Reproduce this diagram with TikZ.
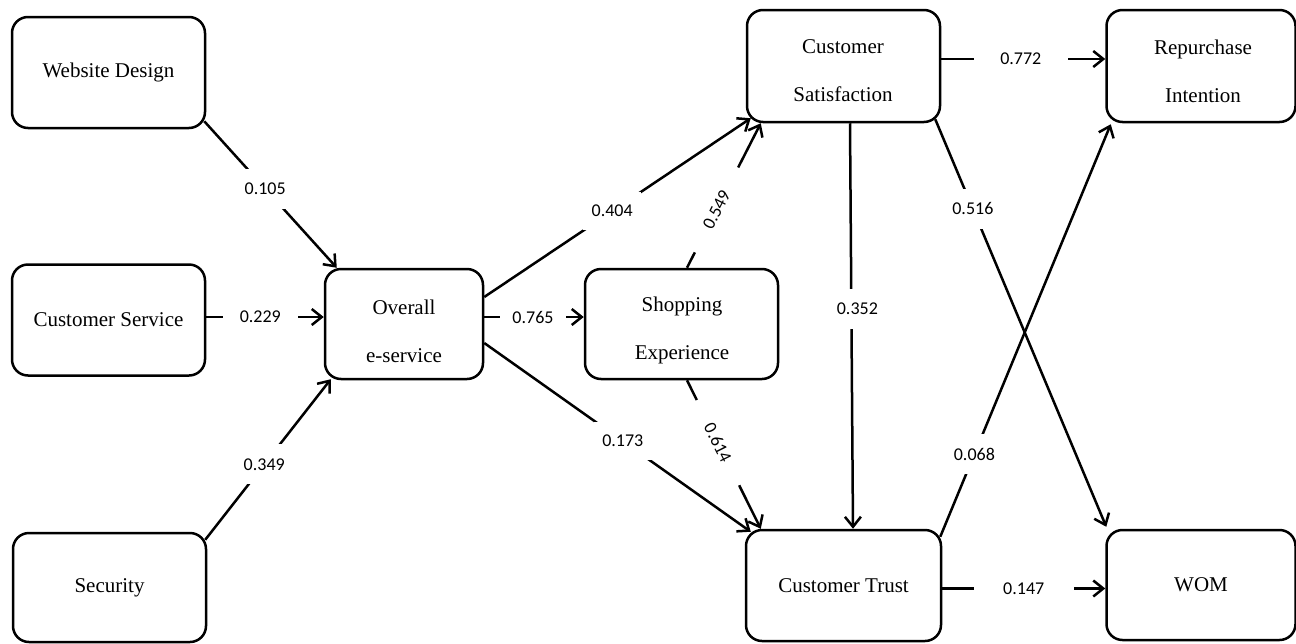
\documentclass[tikz,border=0pt]{standalone}
\usepackage{fontspec}
\setmainfont{Liberation Serif}
\newfontfamily\lblfont{Carlito}
\usetikzlibrary{arrows.meta}
\begin{document}
\begin{tikzpicture}[x=1pt,y=-1pt,
  box/.style={draw, line width=2.5pt, rounded corners=16pt, inner sep=0pt, fill=white,
    font=\fontsize{21pt}{25pt}\selectfont},
  boxtext/.style={align=center, inner sep=0pt, font=\fontsize{21pt}{48pt}\selectfont},
  conn/.style={line width=2.5pt, -{Straight Barb[length=10pt,width=16pt]}},
  lblbase/.style={fill=white, inner sep=1pt, font=\lblfont\fontsize{18pt}{20pt}\selectfont},
  lblh/.style={lblbase, minimum height=16pt},
  lbld/.style={lblbase, minimum width=46pt, minimum height=40pt},
  lbls/.style={lblbase, sloped, minimum width=95pt, minimum height=20pt}
]
\useasboundingbox (0,0) rectangle (1296,643);
\fill[white] (0,0) rectangle (1296,643);

% boxes
\node[box, minimum width=193pt, minimum height=111pt] (wd) at (108.5,72.5) {Website Design};
\node[box, minimum width=193pt, minimum height=111pt] (cs) at (108.5,320) {Customer Service};
\node[box, minimum width=193pt, minimum height=109pt] (sec) at (109.5,587.5) {Security};
\node[box, minimum width=158pt, minimum height=110pt] (oe) at (404,324) {};
\node[box, minimum width=193pt, minimum height=110pt] (se) at (681.5,324) {};
\node[box, minimum width=193pt, minimum height=112pt] (csat) at (843.5,66) {};
\node[box, minimum width=195pt, minimum height=111pt] (ct) at (843.5,585.5) {Customer Trust};
\node[box, minimum width=189pt, minimum height=112pt] (ri) at (1201,66) {};
\node[box, minimum width=189pt, minimum height=110pt] (wom) at (1201,585) {WOM};

% two-line texts
\node[boxtext] (oet) at (404,331) {Overall\\e-service};
\node[boxtext] (set) at (682,330.5) {Shopping\\Experience};
\node[boxtext] (csatt) at (843,71) {Customer\\Satisfaction};
\node[boxtext] (rit) at (1203,71.5) {Repurchase\\Intention};

% connectors
\draw[conn] ([xshift=-2pt,yshift=8pt]wd.south east) -- node[lbld, pos=0.46] (l105) {0.105} ([xshift=13pt]oe.north west);
\draw[conn] ([yshift=3pt]cs.east) -- node[lblh, pos=0.46, minimum width=75pt] (l229) {0.229} ([yshift=3pt]cs.east -| oe.west);
\draw[conn] ([xshift=-2pt,yshift=-8pt]sec.north east) -- node[lbld, pos=0.47] (l349) {0.349} ([xshift=7pt,yshift=1pt]oe.south west);
\draw[conn] ([yshift=27pt]oe.east) -- node[lbld, pos=0.48, minimum width=58pt, minimum height=38pt] (l404) {0.404} ([xshift=5pt,yshift=5pt]csat.south west);
\draw[conn] ([yshift=7pt]oe.east) -- node[lblh, pos=0.49, minimum width=66pt] (l765) {0.765} ([yshift=7pt]oe.east -| se.west);
\draw[conn] ([yshift=-19pt]oe.east) -- node[lbld, pos=0.52, minimum width=58pt, minimum height=38pt] (l173) {0.173} ([xshift=6pt,yshift=-3pt]ct.north west);
\draw[conn] ([xshift=5.5pt]se.north) -- node[lbls, pos=0.4] (l549) {0.549} ([xshift=15pt]csat.south west);
\draw[conn] ([xshift=5.5pt]se.south) -- node[lbls, pos=0.42] (l614) {0.614} ([xshift=16pt]ct.north west);
\draw[conn] ([xshift=6.5pt]csat.south) -- node[lbld, pos=0.457, xshift=6pt] (l352) {0.352} ([xshift=9.5pt]ct.north);
\draw[conn] ([yshift=7pt]csat.east) -- node[lblh, pos=0.485, minimum width=94pt] (l772) {0.772} ([yshift=7pt]csat.east -| ri.west);
\draw[conn] ([xshift=-6pt,yshift=4pt]csat.south east) -- node[lbld, pos=0.22] (l516) {0.516} ([xshift=1pt,yshift=2pt]wom.north west);
\draw[conn] ([xshift=-2pt,yshift=-8pt]ct.north east) -- node[lbld, pos=0.2] (l068) {0.068} ([xshift=5.5pt,yshift=-1pt]ri.south west);
\draw[conn] ([yshift=-3pt]ct.east) -- node[lblh, pos=0.5, minimum width=100pt] (l147) {0.147} ([yshift=-3pt]ct.east -| wom.west);
\end{tikzpicture}
\end{document}
